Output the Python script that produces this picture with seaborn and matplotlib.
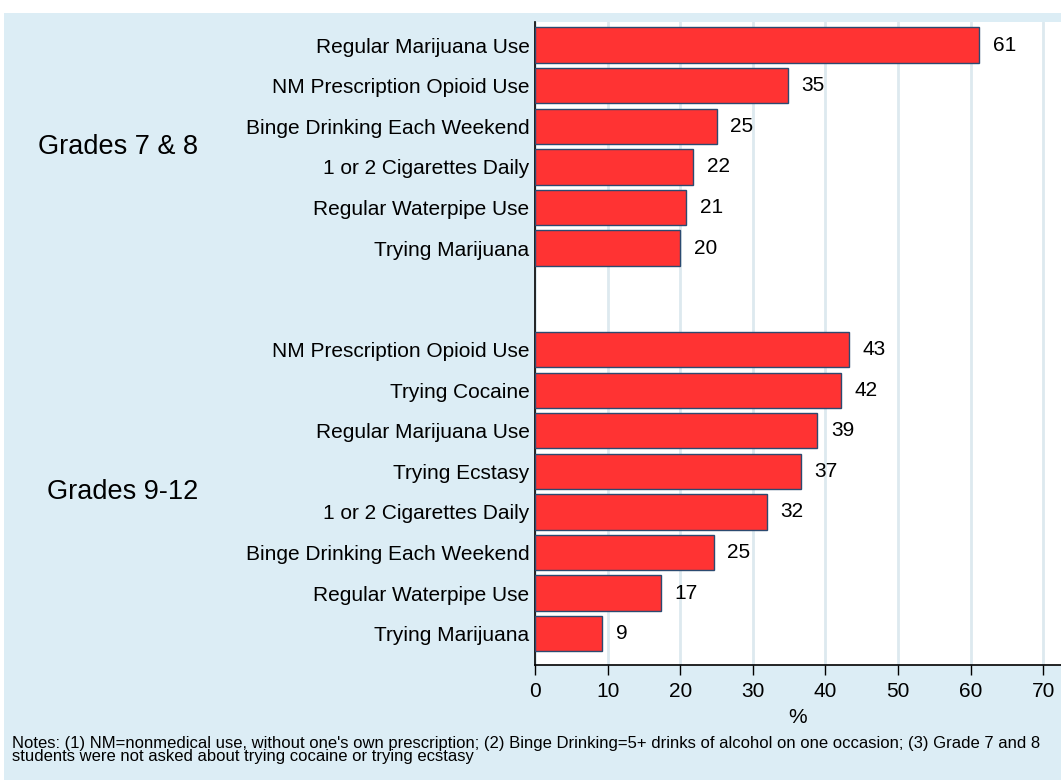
import matplotlib.pyplot as plt
import pandas as pd
import seaborn as sns
from matplotlib.patches import Rectangle

sns.set_style('white')
plt.rcParams['font.family'] = ['Liberation Sans', 'DejaVu Sans']
plt.rcParams['text.color'] = 'black'
plt.rcParams['xtick.color'] = 'black'
plt.rcParams['ytick.color'] = 'black'
plt.rcParams['axes.labelcolor'] = 'black'

# Grades 7 & 8
items_78 = ["Regular Marijuana Use", "NM Prescription Opioid Use",
            "Binge Drinking Each Weekend", "1 or 2 Cigarettes Daily",
            "Regular Waterpipe Use", "Trying Marijuana"]
pct_78 = [61.2, 34.8, 25.0, 21.8, 20.8, 20.0]

# Grades 9-12
items_912 = ["NM Prescription Opioid Use", "Trying Cocaine",
             "Regular Marijuana Use", "Trying Ecstasy",
             "1 or 2 Cigarettes Daily", "Binge Drinking Each Weekend",
             "Regular Waterpipe Use", "Trying Marijuana"]
pct_912 = [43.2, 42.1, 38.9, 36.6, 31.9, 24.6, 17.3, 9.2]

group_names = ["Grades 7 & 8", "Grades 9-12"]
xticks = [0, 10, 20, 30, 40, 50, 60, 70]
notes = ("Notes: (1) NM=nonmedical use, without one's own prescription; (2) Binge Drinking=5+ drinks "
         "of alcohol on one occasion; (3) Grade 7 and 8\nstudents were not asked about trying cocaine "
         "or trying ecstasy")

gap = 1.5
pos_78 = list(range(len(items_78)))
pos_912 = [len(items_78) + gap + i for i in range(len(items_912))]

df = pd.DataFrame({
    "item": items_78 + items_912,
    "pct": pct_78 + pct_912,
    "pos": pos_78 + pos_912,
})

W, H = 1061, 780
fig = plt.figure(figsize=(W / 100, H / 100), dpi=100)
fig.patch.set_facecolor("white")
fig.patches.append(Rectangle((4 / W, 0), 1, 1 - 13 / H, transform=fig.transFigure,
                             facecolor="#dcedf5", edgecolor="none", zorder=-1))

ax = fig.add_axes([535 / W, 1 - 665 / H, 1 - 535 / W, (665 - 22) / H])
ax.set_zorder(2)
ax.set_facecolor("white")

sns.barplot(data=df, x="pct", y="pos", orient="h", native_scale=True,
            color="#ff3333", saturation=1, edgecolor="#2c4a70", linewidth=1,
            width=0.87, ax=ax, zorder=3)

ax.bar_label(ax.containers[0], labels=[f"{v:.0f}" for v in df["pct"]],
             padding=10, fontsize=15)

ax.set_xlim(0, (W - 535) / 7.26)
ax.set_ylim(df["pos"].max() + 0.77, -0.57)
ax.set_xticks(xticks)
ax.set_yticks(df["pos"], df["item"])
ax.tick_params(axis="y", length=0, pad=4, labelsize=15)
ax.tick_params(axis="x", direction="out", length=7, width=1, color="black",
               pad=5, labelsize=15, bottom=True)
ax.xaxis.grid(True, color="#dde9ef", linewidth=2, zorder=0)
ax.set_axisbelow(True)
ax.set_xlabel("%", fontsize=15, labelpad=5)
ax.set_ylabel("")
for s in ["top", "right"]:
    ax.spines[s].set_visible(False)
for s in ["left", "bottom"]:
    ax.spines[s].set_color("black")
    ax.spines[s].set_linewidth(1.2)

fig.text(198 / W, 1 - 147 / H, group_names[0], ha="right", va="center", fontsize=19.5)
fig.text(198 / W, 1 - 492 / H, group_names[1], ha="right", va="center", fontsize=19.5)

fig.text(12 / W, 1 - 750 / H, notes, ha="left", va="center", fontsize=12,
         linespacing=0.8)

fig.savefig("out.png", dpi=100)
